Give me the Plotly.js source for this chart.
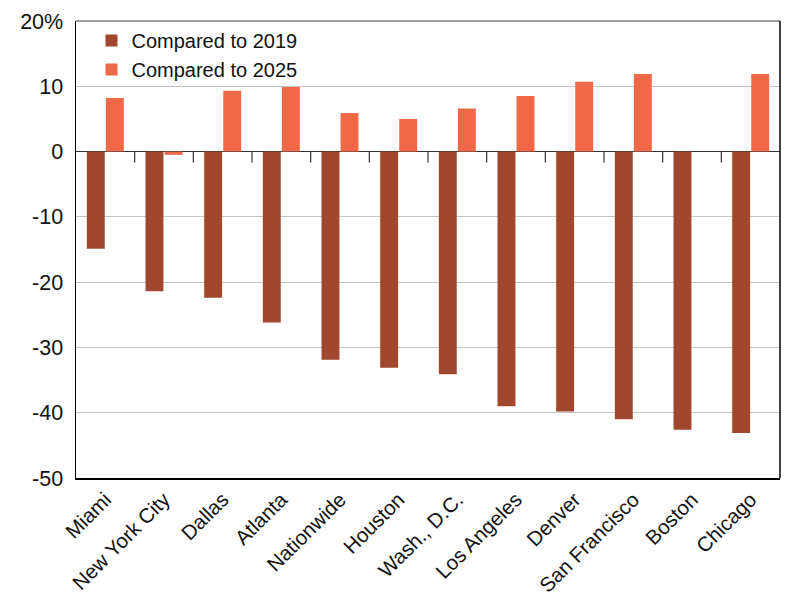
<!DOCTYPE html>
<html>
<head>
<meta charset="utf-8">
<script src="https://cdn.plot.ly/plotly-3.0.1.min.js"></script>
<style>html,body{margin:0;padding:0;background:#fff;}#chart{width:800px;height:600px;}</style>
</head>
<body>
<div id="chart"></div>
<script>
var categories = ["Miami", "New York City", "Dallas", "Atlanta", "Nationwide", "Houston", "Wash., D.C.", "Los Angeles", "Denver", "San Francisco", "Boston", "Chicago"];
var vs2019 = [-14.9, -21.4, -22.4, -26.2, -31.9, -33.1, -34.1, -39.0, -39.8, -41.0, -42.6, -43.1];
var vs2025 = [8.2, -0.5, 9.3, 9.9, 5.9, 5.0, 6.6, 8.5, 10.7, 11.9, null, 11.9];
var seriesNames = ["Compared to 2019", "Compared to 2025"];
var yTickVals = [20, 10, 0, -10, -20, -30, -40, -50];
var yTickText = ["20%", "10", "0", "-10", "-20", "-30", "-40", "-50"];

var font = "Liberation Sans, Arial, Helvetica, sans-serif";

var traces = [
  {type: "bar", name: seriesNames[0], x: categories, y: vs2019, marker: {color: "#a2472f"}},
  {type: "bar", name: seriesNames[1], x: categories, y: vs2025, marker: {color: "#ef6847"}}
];

// tick marks at category boundaries hanging from the zero line
var shapes = [];
for (var i = 0; i < categories.length - 1; i++) {
  shapes.push({type: "line", xref: "x", yref: "y", ysizemode: "pixel", yanchor: 0,
    x0: i + 0.5, x1: i + 0.5, y0: 0, y1: -11, line: {color: "#333", width: 1.2}});
}
// top border (gray) and right border (black)
shapes.push({type: "line", xref: "paper", yref: "paper", x0: 0, x1: 1, y0: 1, y1: 1, line: {color: "#808080", width: 1.5}});
shapes.push({type: "line", xref: "paper", yref: "paper", x0: 1, x1: 1, y0: 0, y1: 1, line: {color: "#000", width: 1.5}});

var layout = {
  width: 800, height: 600,
  margin: {l: 76, r: 20, t: 21, b: 122},
  paper_bgcolor: "#fff", plot_bgcolor: "#fff",
  font: {family: font, size: 20, color: "#111"},
  barmode: "group", bargap: 0.35, bargroupgap: 0.06,
  showlegend: true,
  legend: {x: 0.022, y: 1.0, xanchor: "left", yanchor: "top", bgcolor: "rgba(0,0,0,0)",
    font: {family: font, size: 20, color: "#111"}, itemwidth: 30, tracegroupgap: 0},
  xaxis: {
    type: "category", tickangle: -45, showgrid: false, zeroline: false,
    showline: true, linecolor: "#000", linewidth: 1.5, ticks: "",
    tickfont: {family: font, size: 20.5, color: "#111"}, range: [-0.5, 11.5]
  },
  yaxis: {
    range: [-50, 20], tickvals: yTickVals, ticktext: yTickText,
    showgrid: true, gridcolor: "#c4c4c4", gridwidth: 1,
    zeroline: true, zerolinecolor: "#333", zerolinewidth: 1.5,
    showline: true, linecolor: "#000", linewidth: 1.5, ticks: "",
    ticklabelstandoff: 7,
    tickfont: {family: font, size: 21.5, color: "#111"}
  },
  shapes: shapes
};

Plotly.newPlot("chart", traces, layout, {staticPlot: true, displayModeBar: false});
</script>
</body>
</html>
